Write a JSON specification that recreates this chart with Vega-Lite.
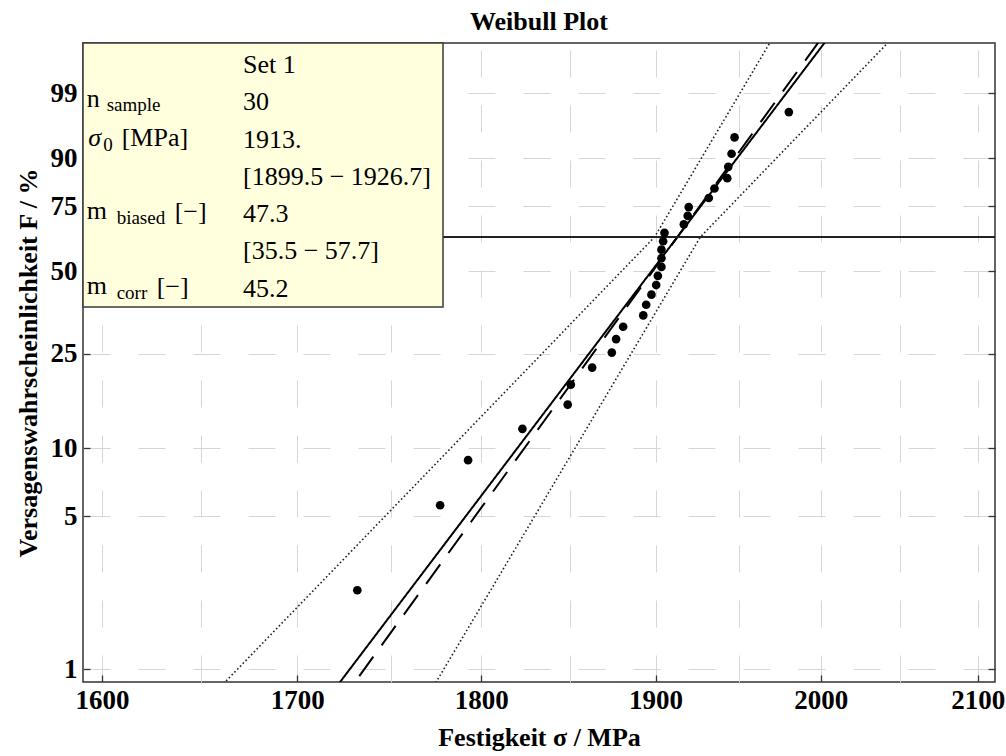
{
  "$schema": "https://vega.github.io/schema/vega-lite/v6.json",
  "width": 912,
  "height": 639,
  "autosize": {"type": "none"},
  "padding": {"left": 83, "top": 43, "right": 11, "bottom": 74},
  "background": "white",
  "title": {
    "text": "Weibull Plot",
    "font": "Liberation Serif",
    "fontSize": 26,
    "fontWeight": "bold",
    "color": "black",
    "offset": 7
  },
  "config": {
    "font": "Liberation Serif",
    "view": {"stroke": "#333", "strokeWidth": 1.5}
  },
  "datasets": {
    "strengths": [
      {"sigma": 1732.0, "weibull": -3.7594},
      {"sigma": 1777.1, "weibull": -2.8552},
      {"sigma": 1792.6, "weibull": -2.3750},
      {"sigma": 1823.1, "weibull": -2.0419},
      {"sigma": 1848.9, "weibull": -1.7841},
      {"sigma": 1850.7, "weibull": -1.5719},
      {"sigma": 1863.0, "weibull": -1.3904},
      {"sigma": 1874.4, "weibull": -1.2307},
      {"sigma": 1876.9, "weibull": -1.0873},
      {"sigma": 1881.0, "weibull": -0.9563},
      {"sigma": 1892.8, "weibull": -0.8351},
      {"sigma": 1894.5, "weibull": -0.7217},
      {"sigma": 1897.6, "weibull": -0.6146},
      {"sigma": 1900.4, "weibull": -0.5124},
      {"sigma": 1901.4, "weibull": -0.4143},
      {"sigma": 1903.5, "weibull": -0.3194},
      {"sigma": 1903.5, "weibull": -0.2268},
      {"sigma": 1903.5, "weibull": -0.1360},
      {"sigma": 1904.5, "weibull": -0.0462},
      {"sigma": 1905.3, "weibull": 0.0433},
      {"sigma": 1916.8, "weibull": 0.1331},
      {"sigma": 1919.1, "weibull": 0.2240},
      {"sigma": 1919.7, "weibull": 0.3172},
      {"sigma": 1931.7, "weibull": 0.4137},
      {"sigma": 1935.1, "weibull": 0.5152},
      {"sigma": 1942.8, "weibull": 0.6243},
      {"sigma": 1943.4, "weibull": 0.7448},
      {"sigma": 1945.4, "weibull": 0.8843},
      {"sigma": 1947.2, "weibull": 1.0591},
      {"sigma": 1980.3, "weibull": 1.3274}
    ],
    "fits": [
      {"fit": "m_corr", "sigma": 1712.7, "weibull": -5.0},
      {"fit": "m_corr", "sigma": 2008.4, "weibull": 2.2},
      {"fit": "m_biased", "sigma": 1721.1, "weibull": -5.0},
      {"fit": "m_biased", "sigma": 2004.1, "weibull": 2.2}
    ],
    "bounds": [
      {"bound": "upper", "sigma": 1650.0, "weibull": -5.0},
      {"bound": "upper", "sigma": 1899.5, "weibull": 0.0},
      {"bound": "upper", "sigma": 1973.3, "weibull": 2.2},
      {"bound": "lower", "sigma": 1766.8, "weibull": -5.0},
      {"bound": "lower", "sigma": 1926.7, "weibull": 0.0},
      {"bound": "lower", "sigma": 2049.9, "weibull": 2.2}
    ],
    "summary": [
      {"row": 1, "sym": "", "sub": "", "unit": "", "value": "Set 1"},
      {"row": 2, "sym": "n", "sub": "sample", "unit": "", "value": "30"},
      {"row": 3, "sym": "σ", "sub": "0", "unit": "[MPa]", "value": "1913."},
      {"row": 4, "sym": "", "sub": "", "unit": "", "value": "[1899.5 − 1926.7]"},
      {"row": 5, "sym": "m", "sub": "biased", "unit": "[−]", "value": "47.3"},
      {"row": 6, "sym": "", "sub": "", "unit": "", "value": "[35.5 − 57.7]"},
      {"row": 7, "sym": "m", "sub": "corr", "unit": "[−]", "value": "45.2"}
    ]
  },
  "layer": [
    {
      "layer": [
        {
          "data": {"name": "bounds"},
          "mark": {"type": "line", "clip": true, "color": "#222", "strokeWidth": 1.6, "strokeDash": [1.6, 2.4]},
          "encoding": {
            "x": {
              "field": "sigma", "type": "quantitative",
              "scale": {"type": "log", "domain": [1590.6, 2111.2], "nice": false},
              "axis": {
                "orient": "bottom",
                "values": [1600, 1700, 1800, 1900, 2000, 2100],
                "format": "d",
                "domain": false,
                "grid": false,
                "tickSize": -7, "tickColor": "#333", "tickWidth": 1.3,
                "labelPadding": 12, "labelFont": "Liberation Serif", "labelFontSize": 27,
                "labelFontWeight": "bold", "labelColor": "black", "labelFlush": false, "labelOverlap": false,
                "title": "Festigkeit σ / MPa", "titleFont": "Liberation Serif", "titleFontSize": 26,
                "titleFontWeight": "bold", "titleColor": "black", "titlePadding": 11
              }
            },
            "y": {
              "field": "weibull", "type": "quantitative",
              "scale": {"domain": [-4.7353, 2.0626], "nice": false, "zero": false},
              "axis": {
                "orient": "left",
                "values": [-4.60015, -2.97020, -2.25037, -1.24590, -0.36651, 0.32663, 0.83403, 1.52718],
                "labelExpr": "format(round(100 * (1 - exp(-exp(datum.value)))), 'd')",
                "domain": false,
                "grid": true, "gridColor": "#d6d6d6", "gridWidth": 1, "gridDash": [27, 28],
                "tickSize": -7, "tickColor": "#333", "tickWidth": 1.3,
                "labelPadding": 13, "labelFont": "Liberation Serif", "labelFontSize": 27,
                "labelFontWeight": "bold", "labelColor": "black", "labelFlush": false, "labelOverlap": false,
                "title": "Versagenswahrscheinlichkeit F / %", "titleFont": "Liberation Serif", "titleFontSize": 26,
                "titleFontWeight": "bold", "titleColor": "black", "titlePadding": 9
              }
            },
            "detail": {"field": "bound"}
          }
        },
        {
          "data": {"name": "fits"},
          "mark": {"type": "line", "clip": true, "color": "black", "strokeWidth": 2},
          "encoding": {
            "x": {
              "field": "sigma", "type": "quantitative",
              "scale": {"type": "log", "domain": [1590.6, 2111.2], "nice": false},
              "axis": {
                "orient": "top",
                "values": [1600, 1650, 1700, 1750, 1800, 1850, 1900, 1950, 2000, 2050, 2100],
                "labels": false, "ticks": false, "domain": false, "title": null,
                "grid": true, "gridColor": "#d6d6d6", "gridWidth": 1, "gridDash": [27, 28]
              }
            },
            "y": {
              "field": "weibull", "type": "quantitative",
              "scale": {"domain": [-4.7353, 2.0626], "nice": false, "zero": false},
              "axis": {
                "orient": "right",
                "values": [-4.60015, -2.97020, -2.25037, -1.24590, -0.36651, 0.32663, 0.83403, 1.52718],
                "labels": false, "domain": false, "grid": false, "title": null,
                "tickSize": -7, "tickColor": "#333", "tickWidth": 1.3
              }
            },
            "strokeDash": {
              "field": "fit", "type": "nominal",
              "scale": {"domain": ["m_corr", "m_biased"], "range": [[1, 0], [24, 14]]},
              "legend": null
            }
          }
        },
        {
          "data": {"values": [{}]},
          "mark": {"type": "rule", "color": "#222", "strokeWidth": 2},
          "encoding": {
            "y": {"datum": 0, "type": "quantitative", "scale": {"domain": [-4.7353, 2.0626], "nice": false, "zero": false}, "axis": null}
          }
        },
        {
          "data": {"name": "strengths"},
          "mark": {"type": "point", "filled": true, "shape": "circle", "size": 75, "color": "black", "opacity": 1},
          "encoding": {
            "x": {"field": "sigma", "type": "quantitative", "scale": {"type": "log", "domain": [1590.6, 2111.2], "nice": false}, "axis": null},
            "y": {"field": "weibull", "type": "quantitative", "scale": {"domain": [-4.7353, 2.0626], "nice": false, "zero": false}, "axis": null}
          }
        }
      ]
    },
    {
      "layer": [
        {
          "data": {"values": [{}]},
          "mark": {"type": "rect", "fill": "#FFFFDE", "stroke": "#3a3a3a", "strokeWidth": 1.5},
          "encoding": {
            "x": {"datum": 1590.6, "type": "quantitative", "scale": {"type": "log", "domain": [1590.6, 2111.2], "nice": false}, "axis": null},
            "x2": {"datum": 1778.7},
            "y": {"datum": 0.2, "type": "quantitative", "scale": {"domain": [0.2, 17.32], "reverse": true, "nice": false, "zero": false}, "axis": null},
            "y2": {"datum": 7.27}
          }
        },
        {
          "data": {"name": "summary"},
          "mark": {"type": "text", "align": "left", "baseline": "alphabetic", "font": "Liberation Serif", "fontSize": 26, "color": "black"},
          "encoding": {
            "x": {"datum": 1671.6, "type": "quantitative", "axis": null},
            "y": {"field": "row", "type": "quantitative", "axis": null},
            "text": {"field": "value"}
          }
        },
        {
          "data": {"name": "summary"},
          "transform": [{"filter": "datum.sym === 'n' || datum.sym === 'm'"}],
          "mark": {"type": "text", "align": "left", "baseline": "alphabetic", "font": "Liberation Serif", "fontSize": 26, "color": "black", "dy": -3},
          "encoding": {
            "x": {"datum": 1592.4, "type": "quantitative", "axis": null},
            "y": {"field": "row", "type": "quantitative", "axis": null},
            "text": {"field": "sym"}
          }
        },
        {
          "data": {"name": "summary"},
          "transform": [{"filter": "datum.sym === 'σ'"}],
          "mark": {"type": "text", "align": "left", "baseline": "alphabetic", "font": "Liberation Serif", "fontSize": 26, "fontStyle": "italic", "color": "black", "dx": 1.5, "dy": -2},
          "encoding": {
            "x": {"datum": 1592.4, "type": "quantitative", "axis": null},
            "y": {"field": "row", "type": "quantitative", "axis": null},
            "text": {"field": "sym"}
          }
        },
        {
          "data": {"name": "summary"},
          "transform": [{"filter": "datum.sym === 'n'"}],
          "mark": {"type": "text", "align": "left", "baseline": "alphabetic", "font": "Liberation Serif", "fontSize": 19, "color": "black", "dx": 20, "dy": 1},
          "encoding": {
            "x": {"datum": 1592.4, "type": "quantitative", "axis": null},
            "y": {"field": "row", "type": "quantitative", "axis": null},
            "text": {"field": "sub"}
          }
        },
        {
          "data": {"name": "summary"},
          "transform": [{"filter": "datum.sym === 'σ'"}],
          "mark": {"type": "text", "align": "left", "baseline": "alphabetic", "font": "Liberation Serif", "fontSize": 19, "color": "black", "dx": 16.5, "dy": 3},
          "encoding": {
            "x": {"datum": 1592.4, "type": "quantitative", "axis": null},
            "y": {"field": "row", "type": "quantitative", "axis": null},
            "text": {"field": "sub"}
          }
        },
        {
          "data": {"name": "summary"},
          "transform": [{"filter": "datum.sym === 'm'"}],
          "mark": {"type": "text", "align": "left", "baseline": "alphabetic", "font": "Liberation Serif", "fontSize": 19, "color": "black", "dx": 30, "dy": 2},
          "encoding": {
            "x": {"datum": 1592.4, "type": "quantitative", "axis": null},
            "y": {"field": "row", "type": "quantitative", "axis": null},
            "text": {"field": "sub"}
          }
        },
        {
          "data": {"name": "summary"},
          "transform": [{"filter": "datum.sym === 'σ'"}],
          "mark": {"type": "text", "align": "left", "baseline": "alphabetic", "font": "Liberation Serif", "fontSize": 26, "color": "black", "dx": 35, "dy": -2},
          "encoding": {
            "x": {"datum": 1592.4, "type": "quantitative", "axis": null},
            "y": {"field": "row", "type": "quantitative", "axis": null},
            "text": {"field": "unit"}
          }
        },
        {
          "data": {"name": "summary"},
          "transform": [{"filter": "datum.sub === 'biased'"}],
          "mark": {"type": "text", "align": "left", "baseline": "alphabetic", "font": "Liberation Serif", "fontSize": 26, "color": "black", "dx": 88, "dy": -2},
          "encoding": {
            "x": {"datum": 1592.4, "type": "quantitative", "axis": null},
            "y": {"field": "row", "type": "quantitative", "axis": null},
            "text": {"field": "unit"}
          }
        },
        {
          "data": {"name": "summary"},
          "transform": [{"filter": "datum.sub === 'corr'"}],
          "mark": {"type": "text", "align": "left", "baseline": "alphabetic", "font": "Liberation Serif", "fontSize": 26, "color": "black", "dx": 70, "dy": -2},
          "encoding": {
            "x": {"datum": 1592.4, "type": "quantitative", "axis": null},
            "y": {"field": "row", "type": "quantitative", "axis": null},
            "text": {"field": "unit"}
          }
        }
      ]
    }
  ],
  "resolve": {"scale": {"y": "independent"}}
}
